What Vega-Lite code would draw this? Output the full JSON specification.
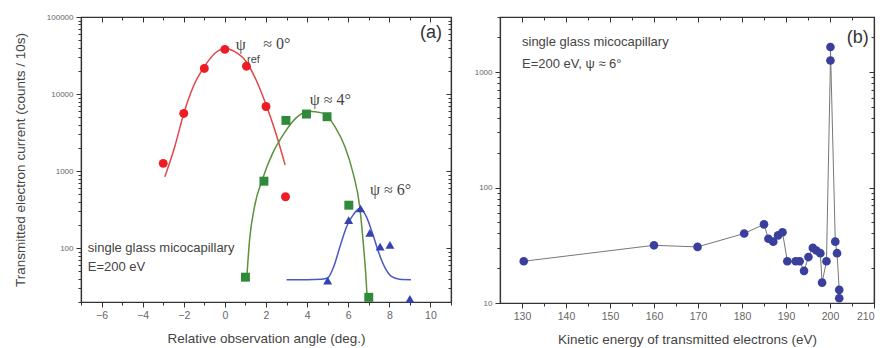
{
  "$schema": "https://vega.github.io/schema/vega-lite/v6.json",
  "background": "white",
  "padding": {"left": 12, "top": 12, "right": 5, "bottom": 2},
  "spacing": 49,
  "bounds": "flush",
  "config": {
    "view": {"stroke": "#333", "strokeWidth": 1.2},
    "axis": {"domainColor": "#333", "domainWidth": 1.2, "tickColor": "#333", "labelColor": "#666", "titleColor": "#444", "labelFont": "Liberation Sans", "titleFont": "Liberation Sans", "grid": false, "titleFontWeight": "normal", "labelFontSize": 10.5, "titleFontSize": 13.5},
    "text": {"font": "Liberation Sans"}
  },
  "datasets": {
    "curves": [
      {"series": "ref", "x": -2.92, "y": 843}, {"series": "ref", "x": -2.44, "y": 2070}, {"series": "ref", "x": -2.0, "y": 5600}, {"series": "ref", "x": -1.54, "y": 12450}, {"series": "ref", "x": -1.0, "y": 22650}, {"series": "ref", "x": -0.48, "y": 33900}, {"series": "ref", "x": 0.0, "y": 39000}, {"series": "ref", "x": 0.48, "y": 35500}, {"series": "ref", "x": 1.04, "y": 26300}, {"series": "ref", "x": 1.52, "y": 15200}, {"series": "ref", "x": 2.0, "y": 7300}, {"series": "ref", "x": 2.48, "y": 3090}, {"series": "ref", "x": 2.93, "y": 1200},
      {"series": "psi4", "x": 1.07, "y": 43}, {"series": "psi4", "x": 1.2, "y": 127}, {"series": "psi4", "x": 1.44, "y": 344}, {"series": "psi4", "x": 1.84, "y": 804}, {"series": "psi4", "x": 2.32, "y": 1700}, {"series": "psi4", "x": 2.88, "y": 3090}, {"series": "psi4", "x": 3.44, "y": 4830}, {"series": "psi4", "x": 4.08, "y": 6000}, {"series": "psi4", "x": 4.72, "y": 5700}, {"series": "psi4", "x": 5.36, "y": 3760}, {"series": "psi4", "x": 5.84, "y": 2070}, {"series": "psi4", "x": 6.24, "y": 933}, {"series": "psi4", "x": 6.56, "y": 344}, {"series": "psi4", "x": 6.72, "y": 127}, {"series": "psi4", "x": 6.85, "y": 47}, {"series": "psi4", "x": 6.93, "y": 21},
      {"series": "psi6", "x": 3.0, "y": 39}, {"series": "psi6", "x": 4.0, "y": 39}, {"series": "psi6", "x": 4.7, "y": 39.5}, {"series": "psi6", "x": 5.0, "y": 41}, {"series": "psi6", "x": 5.3, "y": 58}, {"series": "psi6", "x": 5.6, "y": 105}, {"series": "psi6", "x": 5.92, "y": 190}, {"series": "psi6", "x": 6.24, "y": 270}, {"series": "psi6", "x": 6.56, "y": 327}, {"series": "psi6", "x": 6.88, "y": 257}, {"series": "psi6", "x": 7.2, "y": 150}, {"series": "psi6", "x": 7.5, "y": 85}, {"series": "psi6", "x": 7.8, "y": 55}, {"series": "psi6", "x": 8.1, "y": 43}, {"series": "psi6", "x": 8.5, "y": 39.5}, {"series": "psi6", "x": 9.05, "y": 39}
    ],
    "points": [
      {"series": "ref", "x": -3, "y": 1260}, {"series": "ref", "x": -2, "y": 5600}, {"series": "ref", "x": -1, "y": 21500}, {"series": "ref", "x": 0, "y": 38000}, {"series": "ref", "x": 1.05, "y": 23000}, {"series": "ref", "x": 2, "y": 6900}, {"series": "ref", "x": 2.95, "y": 465},
      {"series": "psi4", "x": 1, "y": 42}, {"series": "psi4", "x": 1.9, "y": 740}, {"series": "psi4", "x": 2.97, "y": 4550}, {"series": "psi4", "x": 3.97, "y": 5500}, {"series": "psi4", "x": 4.97, "y": 5080}, {"series": "psi4", "x": 6.03, "y": 361}, {"series": "psi4", "x": 7, "y": 23},
      {"series": "psi6", "x": 5, "y": 38}, {"series": "psi6", "x": 6.02, "y": 231}, {"series": "psi6", "x": 6.6, "y": 327}, {"series": "psi6", "x": 7.05, "y": 158}, {"series": "psi6", "x": 7.55, "y": 105}, {"series": "psi6", "x": 8.03, "y": 110}, {"series": "psi6", "x": 9.0, "y": 22}
    ],
    "serifA": [
      {"label": "ψ", "x": 0.53, "y": 43300},
      {"label": "≈ 0°", "x": 1.87, "y": 44600},
      {"label": "ψ ≈ 4°", "x": 4.13, "y": 8300},
      {"label": "ψ ≈ 6°", "x": 7.06, "y": 566}
    ],
    "subA": [{"label": "ref", "x": 1.08, "y": 27600}],
    "sansA": [
      {"label": "single glass micocapillary", "x": -6.67, "y": 100},
      {"label": "E=200 eV", "x": -6.67, "y": 56.6}
    ],
    "tagA": [{"label": "(a)", "x": 10.56, "y": 62000}],
    "spectrum": [
      {"order": 1, "energy": 130.4, "count": 23}, {"order": 2, "energy": 160.0, "count": 31.6}, {"order": 3, "energy": 169.9, "count": 30.6}, {"order": 4, "energy": 180.5, "count": 40}, {"order": 5, "energy": 185.0, "count": 48}, {"order": 6, "energy": 186.0, "count": 36}, {"order": 7, "energy": 187.1, "count": 34}, {"order": 8, "energy": 188.2, "count": 38.5}, {"order": 9, "energy": 189.2, "count": 41}, {"order": 10, "energy": 190.3, "count": 23}, {"order": 11, "energy": 192.2, "count": 23}, {"order": 12, "energy": 193.1, "count": 23}, {"order": 13, "energy": 194.1, "count": 19}, {"order": 14, "energy": 195.1, "count": 25}, {"order": 15, "energy": 196.1, "count": 30}, {"order": 16, "energy": 196.9, "count": 28.5}, {"order": 17, "energy": 197.8, "count": 27}, {"order": 18, "energy": 198.2, "count": 15}, {"order": 19, "energy": 199.2, "count": 23}, {"order": 20, "energy": 200.1, "count": 1260}, {"order": 21, "energy": 200.1, "count": 1650}, {"order": 22, "energy": 201.2, "count": 34}, {"order": 23, "energy": 201.6, "count": 27}, {"order": 24, "energy": 202.1, "count": 13}, {"order": 25, "energy": 202.1, "count": 11}
    ],
    "sansB": [
      {"label": "single glass micocapillary", "energy": 130.0, "count": 1820},
      {"label": "E=200 eV, ψ ≈ 6°", "energy": 130.0, "count": 1173}
    ],
    "tagB": [{"label": "(b)", "energy": 208.8, "count": 1970}]
  },
  "hconcat": [
    {
      "width": 370,
      "height": 285,
      "resolve": {"axis": {"x": "independent", "y": "independent"}, "scale": {"color": "independent"}},
      "layer": [
        {
          "data": {"name": "curves"},
          "mark": {"type": "line", "interpolate": "monotone", "strokeWidth": 1.5},
          "encoding": {
            "x": {"field": "x", "type": "quantitative", "scale": {"domain": [-7, 11], "nice": false, "zero": false}, "axis": {"orient": "bottom", "values": [-6, -4, -2, 0, 2, 4, 6, 8, 10], "format": "d", "tickSize": 5, "labelPadding": 3, "title": "Relative observation angle (deg.)", "titlePadding": 11}},
            "y": {"field": "y", "type": "quantitative", "scale": {"type": "log", "domain": [20, 100000], "nice": false}, "axis": {"orient": "left", "values": [100, 1000, 10000, 100000], "format": "d", "tickSize": 5, "labelPadding": 3, "labelFontSize": 8, "title": "Transmitted electron current (counts / 10s)", "titlePadding": 19}},
            "detail": {"field": "series"},
            "color": {"field": "series", "type": "nominal", "scale": {"domain": ["ref", "psi4", "psi6"], "range": ["#e2454a", "#5f913c", "#4a58c8"]}, "legend": null}
          }
        },
        {
          "data": {"name": "points"},
          "mark": {"type": "point", "filled": true, "opacity": 1, "size": 80},
          "encoding": {
            "x": {"field": "x", "type": "quantitative", "axis": {"orient": "top", "values": [-6, -4, -2, 0, 2, 4, 6, 8, 10], "labels": false, "tickSize": -5, "title": null}},
            "y": {"field": "y", "type": "quantitative", "axis": {"orient": "right", "values": [100, 1000, 10000, 100000], "labels": false, "tickSize": -5, "title": null}},
            "color": {"field": "series", "type": "nominal", "scale": {"domain": ["ref", "psi4", "psi6"], "range": ["#ee1c25", "#2f8a3a", "#3344b2"]}, "legend": null},
            "shape": {"field": "series", "type": "nominal", "scale": {"domain": ["ref", "psi4", "psi6"], "range": ["circle", "square", "triangle-up"]}, "legend": null}
          }
        },
        {
          "data": {"name": "serifA"},
          "mark": {"type": "text", "font": "Liberation Serif", "fontSize": 16, "align": "left", "baseline": "middle", "color": "#444"},
          "encoding": {
            "x": {"field": "x", "type": "quantitative", "axis": {"orient": "bottom", "values": [-7, -5, -3, -1, 1, 3, 5, 7, 9, 11], "labels": false, "tickSize": 3, "domain": false, "title": null}},
            "y": {"field": "y", "type": "quantitative", "axis": {"orient": "left", "values": [20, 30, 40, 50, 60, 70, 80, 90, 200, 300, 400, 500, 600, 700, 800, 900, 2000, 3000, 4000, 5000, 6000, 7000, 8000, 9000, 20000, 30000, 40000, 50000, 60000, 70000, 80000, 90000], "labels": false, "tickSize": 3, "domain": false, "title": null}},
            "text": {"field": "label"}
          }
        },
        {
          "data": {"name": "subA"},
          "mark": {"type": "text", "font": "Liberation Sans", "fontSize": 11, "align": "left", "baseline": "middle", "color": "#444"},
          "encoding": {
            "x": {"field": "x", "type": "quantitative", "axis": {"orient": "top", "values": [-7, -5, -3, -1, 1, 3, 5, 7, 9, 11], "labels": false, "tickSize": -3, "domain": false, "title": null}},
            "y": {"field": "y", "type": "quantitative", "axis": {"orient": "right", "values": [20, 30, 40, 50, 60, 70, 80, 90, 200, 300, 400, 500, 600, 700, 800, 900, 2000, 3000, 4000, 5000, 6000, 7000, 8000, 9000, 20000, 30000, 40000, 50000, 60000, 70000, 80000, 90000], "labels": false, "tickSize": -3, "domain": false, "title": null}},
            "text": {"field": "label"}
          }
        },
        {
          "data": {"name": "sansA"},
          "mark": {"type": "text", "fontSize": 13, "align": "left", "baseline": "middle", "color": "#444"},
          "encoding": {
            "x": {"field": "x", "type": "quantitative", "axis": null},
            "y": {"field": "y", "type": "quantitative", "axis": null},
            "text": {"field": "label"}
          }
        },
        {
          "data": {"name": "tagA"},
          "mark": {"type": "text", "fontSize": 18, "align": "right", "baseline": "middle", "color": "#333"},
          "encoding": {
            "x": {"field": "x", "type": "quantitative", "axis": null},
            "y": {"field": "y", "type": "quantitative", "axis": null},
            "text": {"field": "label"}
          }
        }
      ]
    },
    {
      "width": 374,
      "height": 286,
      "resolve": {"axis": {"x": "independent", "y": "independent"}},
      "layer": [
        {
          "data": {"name": "spectrum"},
          "mark": {"type": "line", "color": "#777", "strokeWidth": 1},
          "encoding": {
            "x": {"field": "energy", "type": "quantitative", "scale": {"domain": [125, 210], "nice": false, "zero": false}, "axis": {"orient": "bottom", "values": [130, 140, 150, 160, 170, 180, 190, 200, 210], "format": "d", "tickSize": 5, "labelPadding": 3, "title": "Kinetic energy of transmitted electrons (eV)", "titlePadding": 11}},
            "y": {"field": "count", "type": "quantitative", "scale": {"type": "log", "domain": [10, 3000], "nice": false}, "axis": {"orient": "left", "values": [10, 100, 1000], "format": "d", "tickSize": 5, "labelPadding": 3, "labelFontSize": 8, "title": null}},
            "order": {"field": "order", "type": "quantitative"}
          }
        },
        {
          "data": {"name": "spectrum"},
          "mark": {"type": "circle", "color": "#3a3f9e", "opacity": 1, "size": 75},
          "encoding": {
            "x": {"field": "energy", "type": "quantitative", "axis": {"orient": "top", "values": [130, 140, 150, 160, 170, 180, 190, 200, 210], "labels": false, "tickSize": -5, "title": null}},
            "y": {"field": "count", "type": "quantitative", "axis": {"orient": "right", "values": [10, 100, 1000], "labels": false, "tickSize": -5, "title": null}}
          }
        },
        {
          "data": {"name": "sansB"},
          "mark": {"type": "text", "fontSize": 13, "align": "left", "baseline": "middle", "color": "#444"},
          "encoding": {
            "x": {"field": "energy", "type": "quantitative", "axis": {"orient": "bottom", "values": [135, 145, 155, 165, 175, 185, 195, 205], "labels": false, "tickSize": 3, "domain": false, "title": null}},
            "y": {"field": "count", "type": "quantitative", "axis": {"orient": "left", "values": [20, 30, 40, 50, 60, 70, 80, 90, 200, 300, 400, 500, 600, 700, 800, 900, 2000, 3000], "labels": false, "tickSize": 3, "domain": false, "title": null}},
            "text": {"field": "label"}
          }
        },
        {
          "data": {"name": "tagB"},
          "mark": {"type": "text", "fontSize": 18, "align": "right", "baseline": "middle", "color": "#333"},
          "encoding": {
            "x": {"field": "energy", "type": "quantitative", "axis": {"orient": "top", "values": [135, 145, 155, 165, 175, 185, 195, 205], "labels": false, "tickSize": -3, "domain": false, "title": null}},
            "y": {"field": "count", "type": "quantitative", "axis": {"orient": "right", "values": [20, 30, 40, 50, 60, 70, 80, 90, 200, 300, 400, 500, 600, 700, 800, 900, 2000, 3000], "labels": false, "tickSize": -3, "domain": false, "title": null}},
            "text": {"field": "label"}
          }
        }
      ]
    }
  ]
}
